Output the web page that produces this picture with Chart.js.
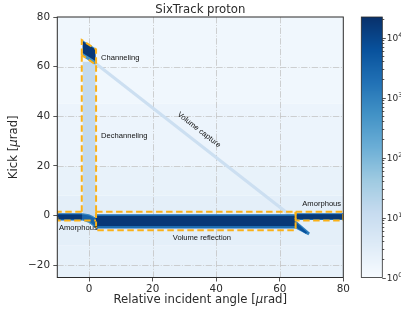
<!DOCTYPE html>
<html>
<head>
<meta charset="utf-8">
<script src="https://cdn.jsdelivr.net/npm/chart.js@4.4.1/dist/chart.umd.min.js"></script>
<style>
  html, body { margin: 0; padding: 0; background: #fff; }
  #wrap { width: 401px; height: 321px; }
</style>
</head>
<body>
<div id="wrap"><canvas id="c" width="401" height="321"></canvas></div>
<script>
// ── DATA ──────────────────────────────────────────────────────────────────────
const xTicks  = [0, 20, 40, 60, 80];
const yTicks  = [-20, 0, 20, 40, 60, 80];
const cbTicks = [1, 10, 100, 1000, 10000];
const cbExp   = ['0', '1', '2', '3', '4'];
const N_MAX   = 22000;   // top of the colour bar

// sparse background counts, by kick band [µrad]
const bgKickLo = [-25, -12, 8, 20, 45];
const bgKickHi = [-12, 8, 20, 45, 80];
const bgCount  = [2.2, 2.6, 2.1, 1.7, 1.4];

// populations as outlines in (angle, kick) with their counts per bin
const popName = ['dechanneling', 'volume capture', 'amorphous L', 'amorphous L core',
                 'bend', 'bend core', 'VR', 'VR core', 'tail', 'tail core',
                 'amorphous R', 'amorphous R core', 'channeling', 'channeling core'];
const popX = [
  [-2, 2, 2, -2],
  [2, 65, 65, 2],
  [-10, -2, -2, -10],
  [-10, -2, -2, -10],
  [-2, 0, 1, 2, 2, 1, 0, -2],
  [-2, 0, 2, 2, 0, -2],
  [2, 65, 65, 2],
  [2, 65, 65, 2],
  [65, 69.5, 69, 65],
  [65, 68.6, 68.2, 65],
  [65, 80, 80, 65],
  [65, 80, 80, 65],
  [-2, 2, 2, -2],
  [-2, 2, 2, -2],
];
const popY = [
  [0, 0, 62, 62],
  [62.2, -0.8, -2.4, 60.6],
  [0.9, 0.9, -2, -2],
  [0.4, 0.4, -1.5, -1.5],
  [0.9, 0.5, -0.1, -0.7, -5, -4, -3, -2],
  [0.4, 0, -1.3, -4.3, -2.3, -1.5],
  [0.5, 0.5, -5.2, -5.2],
  [-0.2, -0.2, -4.2, -4.2],
  [-2, -7, -8, -5.2],
  [-2.6, -6.8, -7.4, -4.6],
  [0.9, 0.9, -1.8, -1.8],
  [0.5, 0.5, -1.4, -1.4],
  [70.6, 67.4, 60.8, 64],
  [70.2, 67, 62.3, 65.5],
];
const popCount = [13, 9, 2500, 16000, 800, 3000, 2000, 16000, 1200, 6000, 2500, 16000, 500, 16000];

// selection boxes (dashed outlines)
const boxX = [
  [-2.3, -10, -10, 2.2],
  [-2.3, -2.3],
  [2.2, 2.2],
  [-2.3, -2.3, 2.2, 2.2, -2.3],
  [2.2, 65, 65, 2.2, 2.2],
  [65, 80, 80, 65, 65],
];
const boxY = [
  [1.5, 1.5, -2, -2],
  [1.5, 64.7],
  [1.5, 60.7],
  [64.7, 70.7, 67, 60.7, 64.7],
  [1.5, 1.5, -6, -6, 1.5],
  [1.5, 1.5, -2, -2, 1.5],
];

// annotations
const noteText = ['Channeling', 'Dechanneling', 'Volume capture', 'Amorphous', 'Volume reflection', 'Amorphous'];
const noteX    = [3.75, 3.75, 34.6, -9.5, 35.5, 67.1];
const noteY    = [63.5, 31.9, 34.5, -5.2, -9.2, 4.6];
const noteAlign = ['left', 'left', 'center', 'left', 'center', 'left'];
const noteRot  = [0, 0, 38, 0, 0, 0];

// ── COLOUR MAP (matplotlib Blues, log norm) ───────────────────────────────────
const BLUES = ['#f7fbff', '#deebf7', '#c6dbef', '#9ecae1', '#6baed6', '#4292c6', '#2171b5', '#08519c', '#08306b']
  .map(h => [1, 3, 5].map(k => parseInt(h.substr(k, 2), 16)));

function blues(t) {
  t = Math.max(0, Math.min(1, t)) * (BLUES.length - 1);
  const i = Math.min(BLUES.length - 2, Math.floor(t)), f = t - i;
  const c = BLUES[i].map((v, k) => Math.round(v + (BLUES[i + 1][k] - v) * f));
  return `rgb(${c[0]},${c[1]},${c[2]})`;
}
const norm = n => Math.log10(n) / Math.log10(N_MAX);

const INK = '#2b2b2b';
const BOX = '#fbb117';

function richText(ctx, parts, x, y) {
  let w = 0;
  parts.forEach(([t, f]) => { ctx.font = f; w += ctx.measureText(t).width; });
  let cx = x - w / 2;
  parts.forEach(([t, f]) => { ctx.font = f; ctx.fillText(t, cx, y); cx += ctx.measureText(t).width; });
}

// ── RENDER ────────────────────────────────────────────────────────────────────
const heatPlugin = {
  id: 'heat',
  beforeDatasetsDraw(chart) {
    const { ctx, chartArea: a, scales: { x, y } } = chart;
    ctx.save();
    ctx.beginPath(); ctx.rect(a.left, a.top, a.width, a.height); ctx.clip();
    ctx.fillStyle = '#fff';
    ctx.fillRect(a.left, a.top, a.width, a.height);

    bgCount.forEach((n, i) => {
      const y0 = y.getPixelForValue(bgKickHi[i]), y1 = y.getPixelForValue(bgKickLo[i]);
      ctx.fillStyle = blues(norm(n));
      ctx.fillRect(a.left, y0, a.width, y1 - y0);
    });

    // dash-dot grid
    ctx.strokeStyle = '#c4c4c4';
    ctx.lineWidth = 0.8;
    ctx.setLineDash([6.4, 1.6, 1, 1.6]);
    xTicks.slice(0, -1).forEach(v => {
      const px = Math.round(x.getPixelForValue(v)) + 0.5;
      ctx.beginPath(); ctx.moveTo(px, a.top); ctx.lineTo(px, a.bottom); ctx.stroke();
    });
    yTicks.slice(0, -1).forEach(v => {
      const py = Math.round(y.getPixelForValue(v)) + 0.5;
      ctx.beginPath(); ctx.moveTo(a.left, py); ctx.lineTo(a.right, py); ctx.stroke();
    });
    ctx.setLineDash([]);

    popX.forEach((xs, i) => {
      ctx.beginPath();
      xs.forEach((v, k) => {
        const px = x.getPixelForValue(v), py = y.getPixelForValue(popY[i][k]);
        k ? ctx.lineTo(px, py) : ctx.moveTo(px, py);
      });
      ctx.closePath();
      ctx.fillStyle = blues(norm(popCount[i]));
      ctx.fill();
    });

    ctx.strokeStyle = BOX;
    ctx.lineWidth = 2;
    ctx.setLineDash([6.5, 3.5]);
    boxX.forEach((xs, i) => {
      ctx.beginPath();
      xs.forEach((v, k) => {
        const px = x.getPixelForValue(v), py = y.getPixelForValue(boxY[i][k]);
        k ? ctx.lineTo(px, py) : ctx.moveTo(px, py);
      });
      ctx.stroke();
    });
    ctx.setLineDash([]);

    ctx.fillStyle = '#111';
    ctx.font = "7.6px 'Liberation Sans', Arial, sans-serif";
    ctx.textBaseline = 'middle';
    noteText.forEach((t, i) => {
      ctx.save();
      ctx.translate(x.getPixelForValue(noteX[i]), y.getPixelForValue(noteY[i]));
      ctx.rotate(noteRot[i] * Math.PI / 180);
      ctx.textAlign = noteAlign[i];
      ctx.fillText(t, 0, 0);
      ctx.restore();
    });
    ctx.restore();
  },
  afterDraw(chart) {
    const { ctx, chartArea: a, scales: { cb } } = chart;
    ctx.save();
    // axes frame
    ctx.strokeStyle = INK;
    ctx.lineWidth = 1;
    ctx.strokeRect(a.left, a.top, a.width, a.height);

    // colour bar
    const cx0 = a.right + 18, cx1 = a.right + 39;
    const top = cb.getPixelForValue(N_MAX), bot = cb.getPixelForValue(1);
    for (let py = Math.floor(top); py < bot; py++) {
      ctx.fillStyle = blues(norm(cb.getValueForPixel(py + 0.5)));
      ctx.fillRect(cx0, py, cx1 - cx0, 1);
    }
    ctx.lineWidth = 0.8;
    ctx.strokeRect(cx0, top, cx1 - cx0, bot - top);
    ctx.beginPath();
    cbTicks.forEach(d => {
      for (let m = 1; m < 10; m++) {
        const v = d * m;
        if (v > N_MAX) break;
        const py = Math.round(cb.getPixelForValue(v)) + 0.5;
        ctx.moveTo(cx1, py); ctx.lineTo(cx1 + (m === 1 ? 3.5 : 2), py);
      }
    });
    ctx.stroke();
    ctx.fillStyle = INK;
    ctx.textAlign = 'left';
    ctx.textBaseline = 'middle';
    cbTicks.forEach((d, i) => {
      const py = cb.getPixelForValue(d);
      ctx.font = "9px 'DejaVu Sans'";
      ctx.fillText('10', cx1 + 4.5, py + 1.5);
      const w = ctx.measureText('10').width;
      ctx.font = "6.3px 'DejaVu Sans'";
      ctx.fillText(cbExp[i], cx1 + 4.5 + w, py - 2.5);
    });

    // title and axis titles
    const reg = "11.7px 'DejaVu Sans'", ita = "oblique 11.7px 'DejaVu Sans'";
    ctx.textAlign = 'left';
    richText(ctx, [['SixTrack proton', reg]], (a.left + a.right) / 2, 9.5);
    richText(ctx, [['Relative incident angle [', reg], ['\u03bc', ita], ['rad]', reg]], (a.left + a.right) / 2, 300);
    ctx.save();
    ctx.translate(14, (a.top + a.bottom) / 2);
    ctx.rotate(-Math.PI / 2);
    richText(ctx, [['Kick [', reg], ['\u03bc', ita], ['rad]', reg]], 0, 0);
    ctx.restore();
    ctx.restore();
  }
};

const tickFont = { family: 'DejaVu Sans', size: 10.4 };
const minus = v => String(v).replace('-', '\u2212');

new Chart(document.getElementById('c'), {
  type: 'scatter',
  data: { datasets: [{ data: [] }] },
  options: {
    responsive: false,
    animation: false,
    devicePixelRatio: 1,
    layout: { padding: { top: 17, left: 0, right: 0, bottom: 0 } },
    plugins: { legend: { display: false }, tooltip: { enabled: false } },
    scales: {
      x: {
        type: 'linear', min: -10, max: 80, position: 'bottom',
        afterBuildTicks: s => { s.ticks = xTicks.map(v => ({ value: v })); },
        ticks: { color: INK, font: tickFont, padding: 2, autoSkip: false, maxRotation: 0, callback: minus },
        grid: { drawOnChartArea: false, tickLength: 4, color: INK, lineWidth: 0.8 },
        border: { display: false },
        afterFit: s => { s.height = 43.5; }
      },
      y: {
        type: 'linear', min: -25, max: 80, position: 'left',
        afterBuildTicks: s => { s.ticks = yTicks.map(v => ({ value: v })); },
        ticks: { color: INK, font: tickFont, padding: 3.3, autoSkip: false, callback: minus },
        grid: { drawOnChartArea: false, tickLength: 4, color: INK, lineWidth: 0.8 },
        border: { display: false },
        afterFit: s => { s.width = 57.3; }
      },
      cb: {
        type: 'logarithmic', min: 1, max: N_MAX, position: 'right',
        ticks: { display: false },
        grid: { display: false },
        border: { display: false },
        afterFit: s => { s.width = 57.7; }
      }
    }
  },
  plugins: [heatPlugin]
});
</script>
</body>
</html>
